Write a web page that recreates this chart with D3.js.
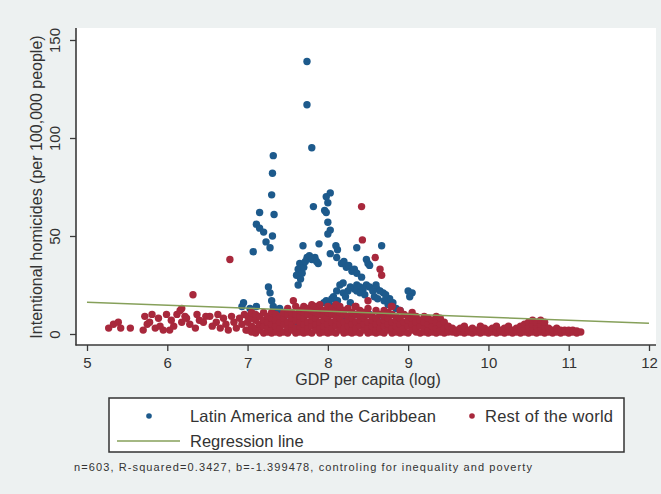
<!DOCTYPE html>
<html>
<head>
<meta charset="utf-8">
<script src="https://cdn.jsdelivr.net/npm/d3@7"></script>
<style>
  html, body { margin: 0; padding: 0; background: #edf1f1; }
  svg { display: block; font-family: "Liberation Sans", Arial, sans-serif; }
</style>
</head>
<body>
<script>
// homicides vs GDP per capita (log)

const xTicks = [5, 6, 7, 8, 9, 10, 11, 12];
const yTicks = [0, 50, 100, 150];

// Latin America and the Caribbean [gdp log, homicides]
const latinAmerica = [
  [7.74,139],[7.74,117],[7.80,95],[7.32,91],[7.31,82],[7.30,71],[7.15,62],[7.33,61],
  [7.11,56],[7.15,54],[7.20,52],[7.31,50],[7.23,47],[7.28,44],[7.07,42],
  [8.03,72],[7.98,70],[8.00,67],[7.82,65],[7.96,63],[7.98,62],[8.00,57],[8.03,53],[8.00,51],
  [7.69,45],[7.89,46],[8.10,45],[8.36,44],[8.67,45],[8.03,41],[7.74,39],[7.84,39],
  [7.88,36],[7.65,36],[7.63,33],[7.61,30],[7.66,28],[7.68,31],[7.70,34],[7.72,37],
  [7.77,40],[7.80,38],[7.86,37],
  [8.11,39],[8.12,43],[8.17,36],[8.20,37],[8.23,34],[8.26,35],[8.30,32],[8.33,33],
  [8.36,31],[8.42,29],[8.48,38],[8.52,35],[8.50,36],
  [7.63,25],[8.19,26],[8.36,25],
  [7.26,24],[7.28,21],[7.30,17],[7.32,14],[7.36,12],[7.38,10],[6.95,16],[6.93,14],
  [7.03,13],[7.11,14],[7.40,13],[7.98,17],[8.07,19],[8.11,22],[8.15,25],[8.36,22],
  [8.19,21],[8.48,25],[8.61,23],[8.69,21],[8.77,18],[8.81,16],[9.00,22],[9.05,21],
  [9.02,19],[8.56,5],[8.61,8],
  [8.40,24],[8.44,23],[8.52,24],[8.56,22],[8.60,25],[8.65,22],[8.72,20],[8.40,21],
  [8.33,23],[8.28,24],[8.25,22],[8.46,20],[8.58,19],[8.62,18],[8.70,17],[8.75,15],
  [8.85,13],[8.90,12],
  [7.95,16],[8.02,15],[8.05,18],[8.12,17],[8.22,19],[8.28,16],
  [7.42,10],[7.45,8],[7.50,11],[7.55,9],[7.60,6],[7.33,9],[7.35,6],
  [8.20,7],[8.35,6],[8.45,9],[8.70,4],[8.75,7],[8.30,10],[8.52,10],[8.66,6]
];

// Rest of the world: outliers and low-income tail
const restOutliers = [
  [8.42,65],[8.43,48],[8.59,39],[8.65,33],[8.67,30],[6.78,38],[6.32,20],[7.57,17],
  [8.50,17],[8.34,14],[8.79,14],[6.18,13],
  [5.27,3],[5.33,5],[5.39,6],[5.42,3],[5.54,3],[5.70,2],[5.72,9],[5.75,5],[5.78,6],
  [5.81,10],[5.85,3],[5.89,8],[5.91,4],[5.95,2],[5.99,10],[6.03,2],[6.05,7],[6.08,4],
  [6.12,10],[6.16,12],[6.18,6],[6.22,9],[6.24,8],[6.28,5],[6.35,3],[6.37,10],[6.40,7],
  [6.45,6],[6.48,9],[6.53,9],[6.56,4],[6.61,6],[6.63,10],[6.66,3],[6.70,8],[6.73,5],
  [6.76,2],[6.80,9],[6.83,6],[6.86,3],[6.90,8],[6.93,5],[6.96,10],[6.98,2]
];

// Rest of the world: dense band, [gdp log, [homicides...]]
const restBand = [
  [7.00,[2,6,9]],[7.05,[1,4,8,11]],[7.10,[0.5,3,7,10]],[7.15,[2,5,9]],
  [7.20,[0.5,4,7,11]],[7.25,[1,3,6,9]],[7.30,[0.5,2,5,8,11]],[7.35,[1,4,7,10]],
  [7.40,[0.5,3,6,9]],[7.45,[1,5,8,11]],[7.50,[0.5,3,6,10,13]],[7.55,[2,5,8,11]],
  [7.60,[0.5,3,7,10,14]],[7.65,[1,4,6,9,12]],[7.70,[0.5,2,5,8,11,14]],[7.75,[1,3,6,10,13]],
  [7.80,[0.5,4,7,9,12,15]],[7.85,[2,5,8,11,14]],[7.90,[0.5,3,6,10,13,15]],[7.95,[1,4,7,9,12]],
  [8.00,[0.5,2,5,8,11,14]],[8.05,[1,3,6,10,13]],[8.10,[0.5,4,7,9,12,15]],[8.15,[2,5,8,11,14]],
  [8.20,[0.5,3,6,10,12]],[8.25,[1,4,7,9,13]],[8.30,[0.5,2,5,8,11]],[8.35,[1,3,6,10,14]],
  [8.40,[0.5,4,7,9,12]],[8.45,[2,5,8,11]],[8.50,[0.5,3,6,10,13]],[8.55,[1,4,7,9]],
  [8.60,[0.5,2,5,8,12]],[8.65,[1,3,6,10]],[8.70,[0.5,4,7,9,12]],[8.75,[2,5,8,11]],
  [8.80,[0.5,3,6,10,14]],[8.85,[1,4,7,9]],[8.90,[0.5,2,5,8,12]],[8.95,[1,3,6,10]],
  [9.00,[0.5,4,7,9]],[9.05,[2,5,8,11]],[9.10,[1,3,6,9]],[9.15,[0.5,4,7]],
  [9.20,[1,3,6,9]],[9.25,[0.5,2,5,8]],[9.30,[1,4,7]],[9.35,[0.5,3,6,9]],
  [9.40,[1,2,5,8]],[9.45,[0.5,3,6]],[9.50,[1,2,4]],[9.55,[1,3]],[9.60,[0.5,2]],
  [9.65,[1,3]],[9.70,[0.5,2,4]],[9.75,[1,2]],[9.80,[0.5,3]],[9.85,[1,2]],
  [9.90,[0.5,2,4]],[9.95,[1,3]],[10.00,[0.5,2]],[10.05,[1,3]],[10.10,[0.5,2,4]],
  [10.15,[1,2]],[10.20,[0.5,3]],[10.25,[1,2,4]],[10.30,[0.5,2]],[10.35,[1,3]],
  [10.40,[0.5,2,4]],[10.45,[1,3,5]],[10.50,[0.5,2,4,6]],[10.55,[1,3,5,7]],
  [10.60,[0.5,2,4,6]],[10.65,[1,3,5,7]],[10.70,[0.5,2,4,6]],[10.75,[1,3]],
  [10.80,[0.5,2]],[10.85,[1,3]],[10.90,[0.5,2]],[10.95,[1,2]],[11.00,[0.5,2]],
  [11.05,[1,2]],[11.10,[0.5,1.5]],[11.15,[1]]
];

const regressionLine = [[5.0,16.2],[12.0,5.5]];

const note = "n=603, R-squared=0.3427, b=-1.399478, controling for inequality and poverty";

const width = 661;
const height = 494;

const colors = {
  latin: '#1d5a8c',
  rest: '#a8283c',
  line: '#86a05a',
  axis: '#3a3a3a',
  text: '#333333'
};

const svg = d3.select("body").append("svg")
  .attr("width", width)
  .attr("height", height);

svg.append("rect")
  .attr("width", width).attr("height", height)
  .attr("fill", "#edf1f1");

// plot region
svg.append("rect")
  .attr("x", 76).attr("y", 28)
  .attr("width", 580).attr("height", 317)
  .attr("fill", "#ffffff");

const x = d3.scaleLinear().domain([5, 12]).range([87, 649]);
const y = d3.scaleLinear().domain([0, 150]).range([334, 40]);

const restPoints = restOutliers.concat(restBand.flatMap(d => d[1].map(v => [d[0], v])));

svg.append("g")
  .selectAll("circle")
  .data(latinAmerica)
  .enter().append("circle")
  .attr("cx", d => x(d[0]))
  .attr("cy", d => y(d[1]))
  .attr("r", 3.7)
  .attr("fill", colors.latin);

svg.append("g")
  .selectAll("circle")
  .data(restPoints)
  .enter().append("circle")
  .attr("cx", d => x(d[0]))
  .attr("cy", d => y(d[1]))
  .attr("r", 3.7)
  .attr("fill", colors.rest);

svg.append("path")
  .datum(regressionLine)
  .attr("d", d3.line().x(d => x(d[0])).y(d => y(d[1])))
  .attr("fill", "none")
  .attr("stroke", colors.line)
  .attr("stroke-width", 1.6);

// axes
const fontFamily = "'Liberation Sans', Arial, sans-serif";

const xAxis = svg.append("g")
  .attr("transform", "translate(0,345)")
  .call(d3.axisBottom(x).tickValues(xTicks).tickFormat(d3.format("d"))
    .tickSize(6).tickSizeOuter(0).tickPadding(6));
xAxis.select(".domain").remove();
xAxis.selectAll("line").attr("stroke", colors.axis).attr("stroke-width", 1.3);
xAxis.selectAll("text")
  .attr("fill", colors.text)
  .style("font-size", "15px")
  .style("font-family", fontFamily);

const yAxis = svg.append("g")
  .attr("transform", "translate(76,0)")
  .call(d3.axisLeft(y).tickValues(yTicks).tickFormat(d3.format("d"))
    .tickSize(6).tickSizeOuter(0));
yAxis.select(".domain").remove();
yAxis.selectAll("line").attr("stroke", colors.axis).attr("stroke-width", 1.3);
yAxis.selectAll("text")
  .attr("fill", colors.text)
  .attr("x", null).attr("dy", null)
  .attr("text-anchor", "middle")
  .attr("transform", "translate(-16,0) rotate(-90)")
  .style("font-size", "15px")
  .style("font-family", fontFamily);

svg.append("line")
  .attr("x1", 76).attr("x2", 76).attr("y1", 28).attr("y2", 345.5)
  .attr("stroke", colors.axis).attr("stroke-width", 1.6);
svg.append("line")
  .attr("x1", 75.5).attr("x2", 656).attr("y1", 345).attr("y2", 345)
  .attr("stroke", colors.axis).attr("stroke-width", 1.6);

// axis titles
svg.append("text")
  .attr("x", 368).attr("y", 385)
  .attr("text-anchor", "middle")
  .attr("fill", colors.text)
  .style("font-size", "16px")
  .text("GDP per capita (log)");

svg.append("text")
  .attr("transform", "translate(42,187) rotate(-90)")
  .attr("text-anchor", "middle")
  .attr("fill", colors.text)
  .style("font-size", "16px")
  .text("Intentional homicides (per 100,000 people)");

// legend
const legend = svg.append("g");
legend.append("rect")
  .attr("x", 109).attr("y", 398)
  .attr("width", 515).attr("height", 54)
  .attr("fill", "#ffffff")
  .attr("stroke", "#333")
  .attr("stroke-width", 1.5);
legend.append("circle")
  .attr("cx", 149).attr("cy", 416).attr("r", 2.8)
  .attr("fill", colors.latin);
legend.append("text")
  .attr("x", 190).attr("y", 422)
  .attr("fill", colors.text)
  .style("font-size", "16.5px")
  .attr("textLength", 246)
  .text("Latin America and the Caribbean");
legend.append("circle")
  .attr("cx", 472).attr("cy", 416).attr("r", 2.8)
  .attr("fill", colors.rest);
legend.append("text")
  .attr("x", 485).attr("y", 422)
  .attr("fill", colors.text)
  .style("font-size", "16.5px")
  .attr("textLength", 128)
  .text("Rest of the world");
legend.append("line")
  .attr("x1", 117).attr("x2", 180).attr("y1", 441).attr("y2", 441)
  .attr("stroke", colors.line).attr("stroke-width", 1.6);
legend.append("text")
  .attr("x", 190).attr("y", 447)
  .attr("fill", colors.text)
  .style("font-size", "16.5px")
  .text("Regression line");

svg.append("text")
  .attr("x", 74).attr("y", 471)
  .attr("fill", colors.text)
  .style("font-size", "11px")
  .attr("textLength", 458)
  .text(note);
</script>
</body>
</html>
